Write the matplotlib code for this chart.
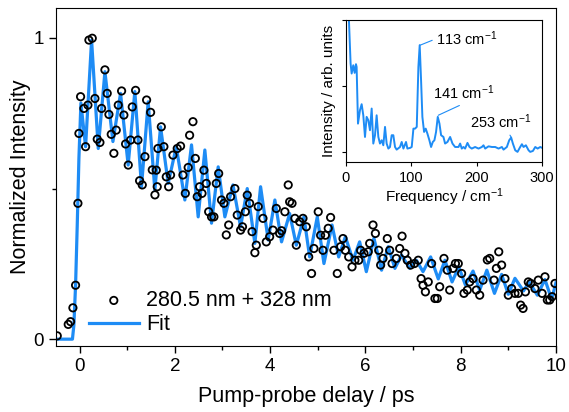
import matplotlib
matplotlib.use("Agg")
import matplotlib.pyplot as plt

plt.rcParams['font.family'] = ['Liberation Sans', 'DejaVu Sans']
plt.rcParams['mathtext.default'] = 'regular'

# === DATA ===
# measured points: pump-probe delay (ps) / normalized intensity
delay = [
    -0.469, -0.238, -0.189, -0.14, -0.084, -0.035, -0.014, 0.021, 0.091, 0.126,
    0.175, 0.196, 0.266, 0.322, 0.371, 0.427, 0.462, 0.532, 0.58, 0.616,
    0.665, 0.72, 0.77, 0.812, 0.882, 0.93, 0.966, 1.022, 1.071, 1.106,
    1.176, 1.225, 1.26, 1.316, 1.372, 1.407, 1.491, 1.526, 1.582, 1.61,
    1.63, 1.645, 1.716, 1.77, 1.82, 1.87, 1.91, 1.96, 2.05, 2.12,
    2.17, 2.22, 2.28, 2.31, 2.38, 2.43, 2.47, 2.52, 2.57, 2.61,
    2.66, 2.71, 2.77, 2.82, 2.87, 2.92, 2.98, 3.03, 3.08, 3.13,
    3.17, 3.26, 3.31, 3.38, 3.42, 3.48, 3.52, 3.57, 3.62, 3.68,
    3.71, 3.75, 3.85, 3.92, 3.99, 4.06, 4.13, 4.20, 4.24, 4.31,
    4.38, 4.41, 4.46, 4.52, 4.55, 4.62, 4.69, 4.76, 4.81, 4.87,
    4.92, 5.01, 5.06, 5.11, 5.16, 5.22, 5.27, 5.34, 5.41, 5.48,
    5.53, 5.58, 5.65, 5.72, 5.78, 5.86, 5.90, 5.97, 6.06, 6.09,
    6.16, 6.21, 6.28, 6.32, 6.37, 6.46, 6.51, 6.56, 6.65, 6.72,
    6.77, 6.83, 6.88, 6.95, 7.03, 7.11, 7.17, 7.21, 7.26, 7.32,
    7.39, 7.46, 7.51, 7.56, 7.65, 7.72, 7.77, 7.84, 7.89, 7.95,
    8.02, 8.07, 8.14, 8.19, 8.26, 8.33, 8.40, 8.47, 8.56, 8.61,
    8.70, 8.75, 8.80, 8.86, 8.93, 9.00, 9.07, 9.14, 9.21, 9.26,
    9.31, 9.36, 9.42, 9.47, 9.56, 9.63, 9.71, 9.77, 9.82, 9.87,
    9.92, 9.98,
]
signal = [
    0.011, 0.049, 0.058, 0.104, 0.179, 0.451, 0.683, 0.805, 0.766, 0.639,
    0.777, 0.993, 0.999, 0.799, 0.664, 0.653, 0.766, 0.894, 0.816, 0.746,
    0.680, 0.617, 0.694, 0.777, 0.824, 0.744, 0.648, 0.578, 0.661, 0.771,
    0.826, 0.661, 0.526, 0.512, 0.606, 0.794, 0.753, 0.562, 0.479, 0.561,
    0.506, 0.633, 0.705, 0.639, 0.539, 0.506, 0.545, 0.611, 0.633, 0.641,
    0.545, 0.484, 0.570, 0.677, 0.722, 0.600, 0.473, 0.506, 0.484, 0.561,
    0.517, 0.423, 0.406, 0.406, 0.517, 0.550, 0.462, 0.451, 0.346, 0.379,
    0.473, 0.500, 0.412, 0.362, 0.373, 0.423, 0.478, 0.451, 0.357, 0.287,
    0.312, 0.440, 0.401, 0.323, 0.340, 0.362, 0.434, 0.351, 0.360, 0.423,
    0.512, 0.456, 0.451, 0.401, 0.312, 0.390, 0.401, 0.373, 0.273, 0.218,
    0.301, 0.423, 0.345, 0.295, 0.345, 0.368, 0.404, 0.295, 0.218, 0.307,
    0.334, 0.295, 0.273, 0.240, 0.262, 0.262, 0.295, 0.285, 0.290, 0.318,
    0.379, 0.351, 0.295, 0.246, 0.268, 0.334, 0.295, 0.251, 0.268, 0.301,
    0.342, 0.285, 0.262, 0.246, 0.251, 0.262, 0.201, 0.179, 0.157, 0.190,
    0.251, 0.135, 0.135, 0.174, 0.268, 0.229, 0.163, 0.235, 0.251, 0.251,
    0.218, 0.152, 0.163, 0.190, 0.201, 0.163, 0.146, 0.196, 0.263, 0.268,
    0.196, 0.235, 0.290, 0.246, 0.201, 0.146, 0.168, 0.152, 0.152, 0.113,
    0.102, 0.157, 0.190, 0.185, 0.168, 0.196, 0.152, 0.207, 0.130, 0.130,
    0.141, 0.185,
]

# fit curve: turning points
fit_t = [
    -0.5, -0.15, -0.12, -0.084, -0.049, -0.014, 0.028, 0.126, 0.252, 0.392,
    0.532, 0.70, 0.86, 1.02, 1.16, 1.30, 1.44, 1.58, 1.70, 1.86,
    2.03, 2.21, 2.35, 2.49, 2.63, 2.77, 2.91, 3.05, 3.22, 3.38,
    3.52, 3.68, 3.80, 3.96, 4.10, 4.24, 4.41, 4.55, 4.71, 4.83,
    4.99, 5.13, 5.30, 5.44, 5.58, 5.74, 5.88, 6.02, 6.18, 6.34,
    6.48, 6.62, 6.76, 6.93, 7.07, 7.21, 7.37, 7.53, 7.67, 7.82,
    7.96, 8.10, 8.26, 8.40, 8.55, 8.71, 8.86, 9.00, 9.14, 9.32,
    9.44, 9.61, 9.77, 9.91, 10.0,
]
fit_y = [
    0.0, 0.0, 0.046, 0.179, 0.379, 0.60, 0.784, 0.639, 0.993, 0.633,
    0.888, 0.656, 0.816, 0.578, 0.822, 0.506, 0.788, 0.495, 0.705, 0.517,
    0.639, 0.462, 0.645, 0.406, 0.628, 0.385, 0.572, 0.406, 0.512, 0.373,
    0.50, 0.318, 0.506, 0.329, 0.462, 0.323, 0.417, 0.312, 0.406, 0.273,
    0.406, 0.251, 0.379, 0.273, 0.340, 0.262, 0.323, 0.224, 0.335, 0.229,
    0.307, 0.235, 0.279, 0.235, 0.262, 0.224, 0.273, 0.20, 0.262, 0.19,
    0.24, 0.18, 0.226, 0.163, 0.229, 0.152, 0.215, 0.149, 0.202, 0.16,
    0.19, 0.146, 0.198, 0.132, 0.187,
]

# inset: Fourier spectrum
freq = [
    3.0, 7.1, 8.7, 11.2, 13.3, 15.3, 16.3, 18.4, 21.4, 24.0,
    26.5, 29.1, 31.6, 34.2, 36.7, 39.3, 41.8, 44.4, 46.9, 49.5,
    52.0, 54.6, 57.1, 59.7, 62.2, 64.8, 67.3, 69.9, 72.4, 75.0,
    77.5, 82.6, 85.2, 87.8, 91.8, 93.9, 98.0, 100.5, 103.1, 105.6,
    108.2, 110.7, 112.7, 114.8, 116.8, 119.4, 121.9, 124.5, 127.5, 130.1,
    132.7, 135.2, 137.7, 140.3, 142.9, 145.4, 149.0, 151.5, 155.1, 159.2,
    162.8, 166.8, 172.0, 174.5, 177.0, 179.6, 182.1, 185.7, 188.8, 192.3,
    197.4, 202.6, 207.7, 210.2, 212.8, 217.9, 223.0, 228.1, 233.2, 238.3,
    240.8, 245.9, 249.5, 252.5, 255.1, 258.7, 262.2, 266.3, 268.9, 271.4,
    275.0, 279.1, 281.6, 285.7, 289.3, 292.9, 296.9, 300.0,
]
amp = [
    1.2, 0.672, 0.596, 0.659, 0.601, 0.667, 0.646, 0.217, 0.318, 0.364,
    0.280, 0.116, 0.268, 0.242, 0.167, 0.331, 0.066, 0.129, 0.280, 0.116,
    0.066, 0.091, 0.053, 0.192, 0.066, 0.028, 0.040, 0.129, 0.129, 0.040,
    0.020, 0.040, 0.078, 0.028, 0.078, 0.028, 0.033, 0.040, 0.179, 0.179,
    0.192, 0.646, 0.811, 0.545, 0.268, 0.154, 0.179, 0.141, 0.091, 0.040,
    0.078, 0.091, 0.154, 0.268, 0.217, 0.129, 0.116, 0.066, 0.078, 0.116,
    0.066, 0.040, 0.040, 0.066, 0.028, 0.040, 0.028, 0.071, 0.040, 0.028,
    0.040, 0.028, 0.040, 0.053, 0.028, 0.045, 0.040, 0.040, 0.028, 0.040,
    0.020, 0.040, 0.091, 0.111, 0.066, 0.015, 0.003, 0.040, 0.061, 0.040,
    0.053, 0.015, 0.003, 0.010, 0.040, 0.028, 0.040, 0.033,
]

blue = '#1E8CF5'

# === MAIN PLOT ===
fig = plt.figure(figsize=(5.69, 4.12), dpi=100)
ax = fig.add_axes([0.098, 0.160, 0.879, 0.821])

ax.scatter(delay, signal, s=28, facecolors='none', edgecolors='black',
           linewidths=1.3, zorder=3, label='280.5 nm + 328 nm')
ax.plot(fit_t, fit_y, color=blue, lw=2.3, zorder=2, label='Fit')

ax.set_xlim(-0.5, 10)
ax.set_ylim(-0.023, 1.1)
ax.set_xticks([0, 2, 4, 6, 8, 10])
ax.set_xticks([1, 3, 5, 7, 9], minor=True)
ax.set_yticks([0, 1])
ax.set_yticks([0.5], minor=True)
ax.tick_params(which='both', direction='out', labelsize=13.5, width=1)
ax.tick_params(which='major', length=5)
ax.tick_params(which='minor', length=3)
ax.set_xlabel('Pump-probe delay / ps', fontsize=15.5, labelpad=8)
ax.set_ylabel('Normalized Intensity', fontsize=15.5, labelpad=2)

ax.legend(loc='lower left', bbox_to_anchor=(0.045, 0.0), frameon=False,
          fontsize=15.5, handlelength=2.3, handletextpad=0.35, labelspacing=0.15,
          borderaxespad=0.1)

# === INSET ===
ins = fig.add_axes([0.608, 0.607, 0.345, 0.344])
ins.plot(freq, amp, color=blue, lw=1.4)
ins.set_xlim(0, 300)
ins.set_ylim(-0.073, 1.0)
ins.set_xticks([0, 100, 200, 300])
ins.set_yticks([0, 0.5, 1.0])
ins.set_yticklabels([])
ins.tick_params(direction='out', labelsize=10.5, length=3, width=0.8)
ins.set_xlabel('Frequency / cm$^{-1}$', fontsize=11, labelpad=1)
ins.set_ylabel('Intensity / arb. units', fontsize=11, labelpad=1)

ins.annotate('113 cm$^{-1}$', xy=(113, 0.81), xytext=(138, 0.86),
             fontsize=10.5, va='center', color='black',
             arrowprops=dict(arrowstyle='-', color=blue, lw=0.8,
                             shrinkA=1, shrinkB=0, relpos=(0, 0.5)))
ins.annotate('141 cm$^{-1}$', xy=(141, 0.28), xytext=(133, 0.45),
             fontsize=10.5, va='center', color='black',
             arrowprops=dict(arrowstyle='-', color=blue, lw=0.8,
                             shrinkA=1, shrinkB=0, relpos=(0.55, 0)))
ins.annotate('253 cm$^{-1}$', xy=(253, 0.11), xytext=(189, 0.23),
             fontsize=10.5, va='center', color='black',
             arrowprops=dict(arrowstyle='-', color=blue, lw=0.8,
                             shrinkA=1, shrinkB=0, relpos=(0.62, 0)))

plt.savefig('out.png', dpi=100)
